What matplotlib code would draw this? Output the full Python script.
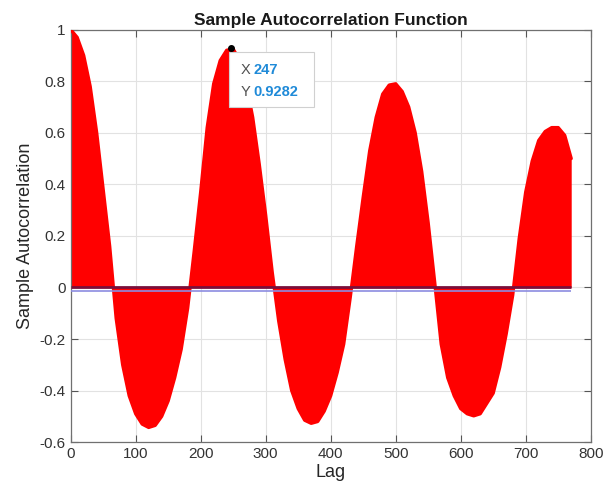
import numpy as np
import matplotlib
matplotlib.use('Agg')
import matplotlib.pyplot as plt
from matplotlib.patches import Rectangle

plt.rcParams['font.family'] = ['Liberation Sans', 'DejaVu Sans']

# sample autocorrelation, every 10 lags
lags = np.arange(0, 771, 10)
acf = [1.0, 0.97, 0.90, 0.78, 0.60, 0.38, 0.16, -0.12, -0.30, -0.42,
       -0.49, -0.53, -0.543, -0.535, -0.50, -0.44, -0.35, -0.24, -0.08, 0.14,
       0.37, 0.62, 0.79, 0.88, 0.92, 0.925, 0.88, 0.79, 0.66, 0.48,
       0.28, 0.06, -0.13, -0.28, -0.40, -0.47, -0.515, -0.527, -0.52, -0.48,
       -0.42, -0.33, -0.22, -0.04, 0.16, 0.35, 0.53, 0.66, 0.75, 0.785,
       0.79, 0.76, 0.70, 0.60, 0.45, 0.25, 0.02, -0.22, -0.35, -0.42,
       -0.47, -0.49, -0.498, -0.49, -0.45, -0.41, -0.31, -0.18, -0.03, 0.19,
       0.37, 0.49, 0.57, 0.605, 0.62, 0.62, 0.59, 0.50]
lower_bound = -0.012

tip_x = 247
tip_y = 0.9282

fig = plt.figure(figsize=(6.04, 4.94), dpi=100)
ax = fig.add_axes([0.117, 0.105, 0.861, 0.835])

ax.fill_between(lags, 0, acf, color='#ff0000', lw=0, zorder=2)
ax.plot(lags, acf, color='#ff0000', lw=2.4, solid_capstyle='round',
        solid_joinstyle='round', zorder=3)
ax.hlines(0, lags[0], lags[-1], color='#7a0f3a', lw=2.0, zorder=4)
ax.hlines(lower_bound, lags[0], lags[-1], color='#8c8ce0', lw=1.2, zorder=4)

# datatip
ax.plot([tip_x], [tip_y], 'o', color='black', ms=4, zorder=6)
ax.add_patch(Rectangle((tip_x - 4, 0.70), 132, 0.214, facecolor='white',
                       edgecolor='#d0d0d0', lw=0.8, zorder=5))
ax.text(261, 0.843, 'X', color='#505050', fontsize=10.5, va='center', zorder=7)
ax.text(281, 0.843, str(tip_x), color='#1f8ad8', fontsize=10.5,
        fontweight='bold', va='center', zorder=7)
ax.text(261, 0.758, 'Y', color='#505050', fontsize=10.5, va='center', zorder=7)
ax.text(281, 0.758, '%.4f' % tip_y, color='#1f8ad8', fontsize=10.5,
        fontweight='bold', va='center', zorder=7)

ax.set_xlim(0, 800)
ax.set_ylim(-0.6, 1)
ax.set_xticks(np.arange(0, 801, 100))
ax.set_yticks(np.arange(-0.6, 1.01, 0.2))
ax.set_yticklabels(['-0.6', '-0.4', '-0.2', '0', '0.2', '0.4', '0.6', '0.8', '1'])
ax.grid(True, color='#e2e2e2', lw=0.8)
ax.set_axisbelow(True)
ax.tick_params(direction='in', top=True, right=True, length=5,
               labelsize=11, colors='#555555', labelcolor='#333333')
for s in ax.spines.values():
    s.set_color('#707070')
    s.set_linewidth(0.9)

ax.set_title('Sample Autocorrelation Function', fontsize=12.5,
             fontweight='bold', color='#1a1a1a', pad=3)
ax.set_xlabel('Lag', fontsize=13, color='#262626', labelpad=2)
ax.set_ylabel('Sample Autocorrelation', fontsize=13, color='#262626', labelpad=4)

fig.savefig('out.png', dpi=100)
